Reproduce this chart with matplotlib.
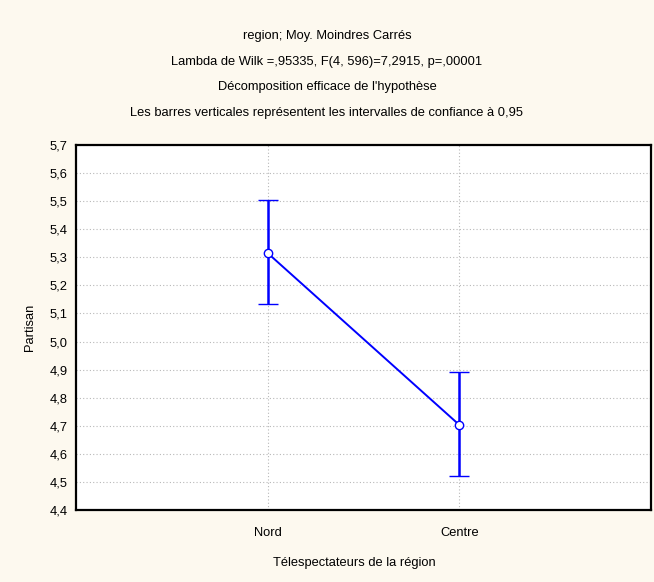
import numpy as np
import matplotlib
matplotlib.use("Agg")
import matplotlib.pyplot as plt

plt.rcParams['font.family'] = ['Liberation Sans', 'DejaVu Sans']

# data
REGIONS = ["Nord", "Centre"]
MEANS = [5.315, 4.703]
CI_LOW = [5.133, 4.520]
CI_HIGH = [5.505, 4.893]
YTICKS = [4.4, 4.5, 4.6, 4.7, 4.8, 4.9, 5.0, 5.1, 5.2, 5.3, 5.4, 5.5, 5.6, 5.7]

TITLES = ["region; Moy. Moindres Carrés",
          "Lambda de Wilk =,95335, F(4, 596)=7,2915, p=,00001",
          "Décomposition efficace de l'hypothèse",
          "Les barres verticales représentent les intervalles de confiance à 0,95"]

W, H = 654, 582
BG = "#fdf9ef"

fig = plt.figure(figsize=(W / 100, H / 100), dpi=100, facecolor=BG)
ax = fig.add_axes([76 / W, 1 - 510 / H, (651 - 76) / W, (510 - 145) / H])
ax.set_facecolor("white")

x = np.arange(len(REGIONS))
means = np.array(MEANS)
yerr = [means - np.array(CI_LOW), np.array(CI_HIGH) - means]
ax.errorbar(x, means, yerr=yerr, color="#0000ff", lw=1.4, capsize=7,
            capthick=1.8, elinewidth=1.8, marker="o", ms=6,
            mfc="white", mec="#0000ff", mew=1.0, zorder=3)

ax.set_xlim(-1, 2)
ax.set_ylim(4.4, 5.7)
ax.set_xticks(x)
ax.set_xticklabels(REGIONS)
ax.set_yticks(YTICKS)
ax.set_yticklabels(["{:.1f}".format(v).replace(".", ",") for v in YTICKS])
ax.tick_params(length=0, labelsize=9.3, pad=6)
ax.tick_params(axis="x", pad=12)
ax.grid(True, color="#b8b8b8", ls=(0, (1, 2)), lw=0.8)
ax.set_axisbelow(True)
for sp in ax.spines.values():
    sp.set_linewidth(1.6)
    sp.set_color("black")

for i, t in enumerate(TITLES):
    fig.text(327 / W, 1 - (36 + 25.7 * i) / H, t, ha="center", va="center",
             fontsize=9.3)

fig.text(30 / W, 1 - 327 / H, "Partisan", rotation=90, ha="center",
         va="center", fontsize=9.3)
fig.text(354 / W, 1 - 563 / H, "Télespectateurs de la région", ha="center",
         va="center", fontsize=9.3)

fig.savefig("out.png", dpi=100, facecolor=BG)
